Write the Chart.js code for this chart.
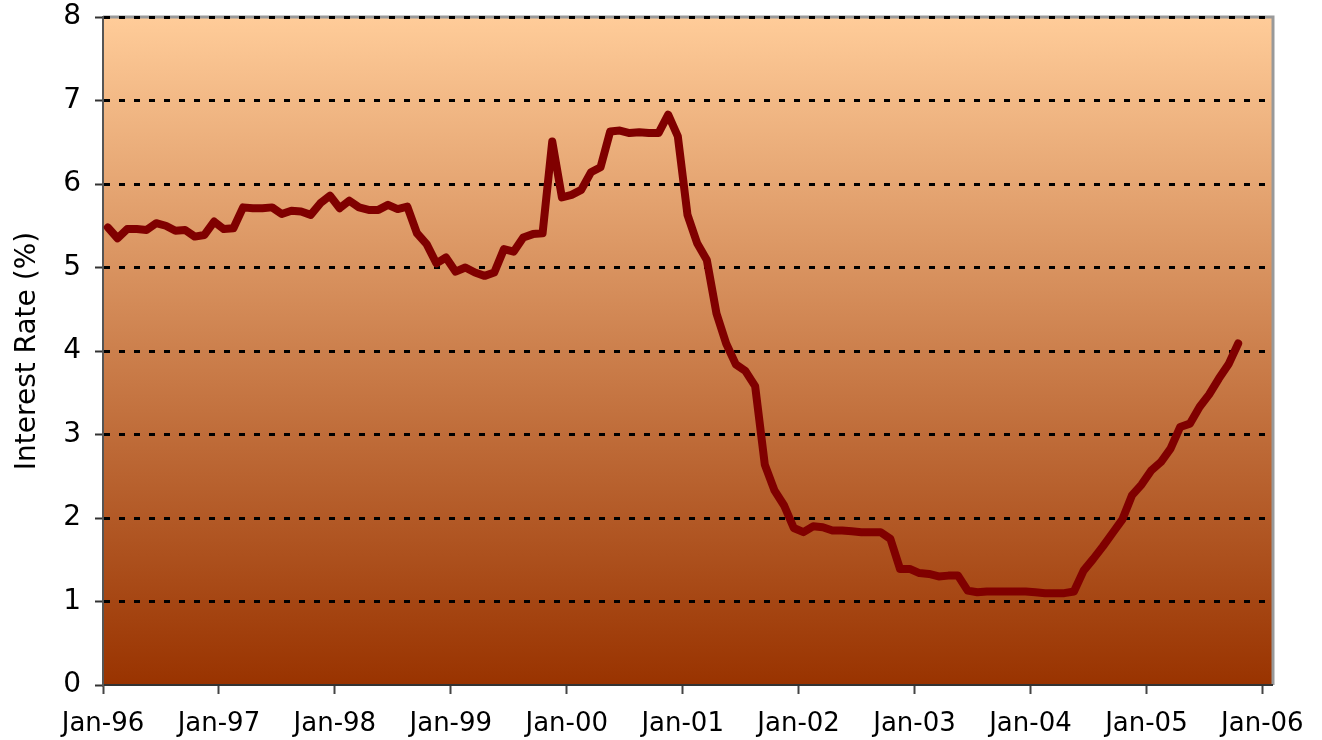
<!DOCTYPE html>
<html>
<head>
<meta charset="utf-8">
<script src="https://cdn.jsdelivr.net/npm/chart.js@4"></script>
<style>
  html, body { margin: 0; padding: 0; background: #fff; }
  #wrap { width: 1322px; height: 740px; }
</style>
</head>
<body>
<div id="wrap"><canvas id="rateChart" width="1322" height="740"></canvas></div>
<script>
// tick labels on the x axis, one per January
const tickLabels = ['Jan-96', 'Jan-97', 'Jan-98', 'Jan-99', 'Jan-00', 'Jan-01',
  'Jan-02', 'Jan-03', 'Jan-04', 'Jan-05', 'Jan-06'];

// monthly rates, Jan-96 .. Oct-05
const rates1996 = [5.48, 5.35, 5.46, 5.46, 5.45, 5.53, 5.50, 5.44, 5.45, 5.37, 5.39, 5.55];
const rates1997 = [5.46, 5.47, 5.72, 5.71, 5.71, 5.72, 5.64, 5.68, 5.67, 5.63, 5.77, 5.86];
const rates1998 = [5.71, 5.80, 5.72, 5.69, 5.69, 5.75, 5.70, 5.73, 5.41, 5.28, 5.05, 5.12];
const rates1999 = [4.95, 5.00, 4.94, 4.90, 4.94, 5.22, 5.19, 5.36, 5.40, 5.41, 6.51, 5.84];
const rates2000 = [5.87, 5.93, 6.14, 6.20, 6.63, 6.64, 6.61, 6.62, 6.61, 6.61, 6.83, 6.57];
const rates2001 = [5.63, 5.29, 5.09, 4.45, 4.09, 3.84, 3.76, 3.58, 2.64, 2.33, 2.15, 1.88];
const rates2002 = [1.83, 1.90, 1.89, 1.85, 1.85, 1.84, 1.83, 1.83, 1.83, 1.75, 1.39, 1.39];
const rates2003 = [1.34, 1.33, 1.30, 1.31, 1.31, 1.13, 1.11, 1.12, 1.12, 1.12, 1.12, 1.12];
const rates2004 = [1.11, 1.10, 1.10, 1.10, 1.12, 1.37, 1.51, 1.66, 1.82, 1.98, 2.27, 2.40];
const rates2005 = [2.57, 2.67, 2.83, 3.09, 3.13, 3.33, 3.48, 3.67, 3.84, 4.09];

const rates = [].concat(rates1996, rates1997, rates1998, rates1999, rates2000,
  rates2001, rates2002, rates2003, rates2004, rates2005);

// x is in months since Jan-96; each value sits in the middle of its month
const points = rates.map((v, i) => ({ x: i + 0.5, y: v }));

const FONT = "'DejaVu Sans', sans-serif";

const plotBackground = {
  id: 'plotBackground',
  beforeDraw(chart) {
    const { ctx, chartArea: a } = chart;
    const g = ctx.createLinearGradient(0, a.top, 0, a.bottom);
    g.addColorStop(0, '#ffcc99');
    g.addColorStop(1, '#993300');
    ctx.save();
    ctx.fillStyle = g;
    ctx.fillRect(a.left, a.top, a.right - a.left, a.bottom - a.top);
    // grey frame on top and right
    ctx.strokeStyle = '#999999';
    ctx.lineWidth = 3;
    ctx.beginPath();
    ctx.moveTo(a.left, a.top);
    ctx.lineTo(a.right + 1, a.top);
    ctx.lineTo(a.right + 1, a.bottom);
    ctx.stroke();
    ctx.restore();
  }
};

const ctx = document.getElementById('rateChart').getContext('2d');
new Chart(ctx, {
  type: 'line',
  data: {
    datasets: [{
      label: 'Interest Rate',
      data: points,
      borderColor: '#800000',
      borderWidth: 8,
      pointRadius: 0,
      tension: 0,
      borderCapStyle: 'round',
      borderJoinStyle: 'round',
    }],
  },
  options: {
    responsive: false,
    animation: false,
    layout: { padding: { top: 17, right: 50, left: 0, bottom: 0 } },
    plugins: {
      legend: { display: false },
      tooltip: { enabled: false },
    },
    scales: {
      x: {
        type: 'linear',
        min: 0,
        max: 121,
        afterBuildTicks: scale => {
          scale.ticks = tickLabels.map((_, k) => ({ value: k * 12 }));
        },
        afterFit: scale => {
          scale.height = 55;
          scale.paddingLeft = 0;
          scale.paddingRight = 0;
        },
        ticks: {
          autoSkip: false,
          maxRotation: 0,
          padding: 15,
          color: '#000',
          font: { family: FONT, size: 26 },
          callback: v => tickLabels[v / 12],
        },
        grid: {
          drawOnChartArea: false,
          drawTicks: true,
          tickLength: 9,
          tickColor: '#444',
          tickWidth: 2,
        },
        border: { color: '#333', width: 2 },
      },
      y: {
        min: 0,
        max: 8,
        afterFit: scale => {
          scale.width = 103;
          scale.paddingTop = 0;
          scale.paddingBottom = 0;
        },
        ticks: {
          stepSize: 1,
          padding: 14,
          color: '#000',
          font: { family: FONT, size: 28 },
        },
        grid: {
          color: c => (c.tick && c.tick.value > 0 ? '#000' : 'rgba(0,0,0,0)'),
          lineWidth: 3,
          drawTicks: true,
          tickLength: 8,
          tickColor: '#333',
          tickWidth: 2,
        },
        border: { color: '#555', width: 2, dash: [6, 9] },
        title: {
          display: true,
          text: 'Interest Rate (%)',
          color: '#000',
          font: { family: FONT, size: 28 },
          padding: { top: 11, bottom: 0 },
        },
      },
    },
  },
  plugins: [plotBackground],
});
</script>
</body>
</html>
